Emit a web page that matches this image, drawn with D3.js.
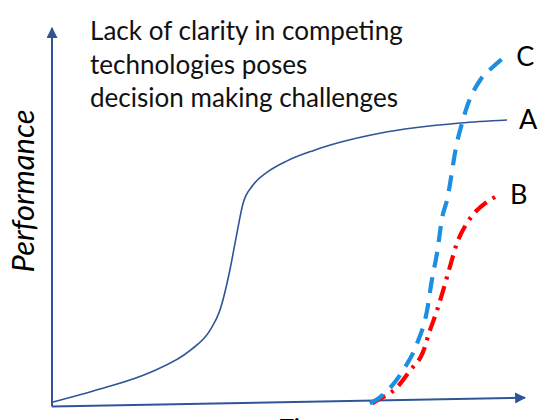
<!DOCTYPE html>
<html>
<head>
<meta charset="utf-8">
<script src="https://cdn.jsdelivr.net/npm/d3@7"></script>
<style>
  body { margin: 0; background: #fff; }
  svg { display: block; }
</style>
</head>
<body>
<div id="chart"></div>
<script>
// chart values (time 0-100, performance 0-100)
var titleLines = ["Lack of clarity in competing", "technologies poses", "decision making challenges"];
var xTitle = "Time";
var yTitle = "Performance";

var seriesNames = ["A", "B", "C"];

var timeA = [0, 10.1, 20.7, 29.2, 33.4, 35.5, 37.6, 38.9, 40.4, 42.5, 45.5, 49.7, 55.2, 60.9, 69.3, 86.3, 96.2];
var perfA = [1.1, 4.6, 9.0, 14.8, 20.1, 25.4, 36.0, 44.5, 53.7, 58.5, 61.9, 64.9, 67.6, 69.8, 72.2, 74.9, 75.7];

var timeB = [67.7, 68.7, 72.9, 75.7, 78.4, 79.9, 81.4, 82.7, 84.1, 85.6, 87.7, 89.9, 90.5, 94.3];
var perfB = [0.8, 1.6, 5.0, 9.5, 14.3, 20.1, 25.4, 30.7, 36.8, 43.1, 48.4, 51.9, 52.6, 55.8];

var timeC = [67.2, 69.3, 74.2, 77.2, 79.3, 80.3, 81.4, 82.5, 83.5, 85.6, 86.7, 87.7, 90.5, 93.2, 95.6];
var perfC = [0.8, 2.4, 9.5, 16.7, 25.4, 33.3, 40.5, 50.0, 54.5, 69.6, 74.9, 79.1, 86.2, 89.7, 92.3];

// hand-drawn axes: end points in data units (x axis rises slightly)
var xAxisEnds = [[0, 0], [100, 2.3]];
var yAxisEnds = [[0, 0], [0, 100]];

var width = 560, height = 420;

var svg = d3.select("#chart")
    .append("svg")
    .attr("width", width)
    .attr("height", height);

var x = d3.scaleLinear().domain([0, 100]).range([52, 525]);
var y = d3.scaleLinear().domain([0, 100]).range([406.5, 28]);

var axisColor = "#2f5597";
var fontFam = "Lato, 'Open Sans', 'DejaVu Sans', sans-serif";

// arrow head
svg.append("defs").append("marker")
    .attr("id", "arrow")
    .attr("viewBox", "0 0 10 10")
    .attr("refX", 9)
    .attr("refY", 5)
    .attr("markerWidth", 5.5)
    .attr("markerHeight", 5.5)
    .attr("markerUnits", "strokeWidth")
    .attr("orient", "auto")
    .append("path")
    .attr("d", "M0,0 L10,5 L0,10 Z")
    .attr("fill", axisColor);

var line = d3.line()
    .x(function (d) { return x(d[0]); })
    .y(function (d) { return y(d[1]); });

var curve = d3.line()
    .x(function (d) { return x(d[0]); })
    .y(function (d) { return y(d[1]); })
    .curve(d3.curveMonotoneX);

//////////
// AXES //
//////////
[xAxisEnds, yAxisEnds].forEach(function (ends) {
    svg.append("path")
        .attr("d", line(ends))
        .attr("fill", "none")
        .attr("stroke", axisColor)
        .attr("stroke-width", 2)
        .attr("marker-end", "url(#arrow)");
});

//////////
// CURVES //
//////////
var ptsA = d3.zip(timeA, perfA);
var ptsB = d3.zip(timeB, perfB);
var ptsC = d3.zip(timeC, perfC);

svg.append("path")
    .attr("d", curve(ptsA))
    .attr("fill", "none")
    .attr("stroke", "#2f5597")
    .attr("stroke-width", 1.6);

svg.append("path")
    .attr("d", curve(ptsB))
    .attr("fill", "none")
    .attr("stroke", "#ff0000")
    .attr("stroke-width", 4.2)
    .attr("stroke-dasharray", "15,7,3,7");

svg.append("path")
    .attr("d", curve(ptsC))
    .attr("fill", "none")
    .attr("stroke", "#1c8fe3")
    .attr("stroke-width", 4.2)
    .attr("stroke-dasharray", "16,10");

// series labels at the end of each curve
var ends = [ptsA[ptsA.length - 1], ptsB[ptsB.length - 1], ptsC[ptsC.length - 1]];
svg.selectAll("text.series")
    .data(seriesNames)
    .enter()
    .append("text")
    .attr("class", "series")
    .attr("x", function (d, i) { return x(ends[i][0]) + 12; })
    .attr("y", function (d, i) { return y(ends[i][1]) + 9; })
    .style("font-family", fontFam)
    .style("font-size", "27px")
    .attr("fill", "#000")
    .text(function (d) { return d; });

//////////
// TEXT //
//////////
var title = svg.append("text")
    .attr("x", 90)
    .attr("y", 40)
    .style("font-family", fontFam)
    .style("font-size", "25px")
    .attr("fill", "#111");

title.selectAll("tspan")
    .data(titleLines)
    .enter()
    .append("tspan")
    .attr("x", 90)
    .attr("dy", function (d, i) { return i === 0 ? 0 : 33.5; })
    .text(function (d) { return d; });

// fit first line to the reference width (~313px)
var w0 = title.select("tspan").node().getComputedTextLength();
title.style("font-size", (25 * 313 / w0) + "px");

var yLab = svg.append("text")
    .attr("transform", "translate(34,191) rotate(-90)")
    .attr("text-anchor", "middle")
    .style("font-family", fontFam)
    .style("font-size", "26px")
    .style("font-style", "italic")
    .attr("fill", "#000")
    .text(yTitle);
var wy = yLab.node().getComputedTextLength();
yLab.style("font-size", (26 * 163 / wy) + "px");

// axis title sits mostly below the frame, as in the original slide
svg.append("text")
    .attr("x", 305)
    .attr("y", 436.5)
    .attr("text-anchor", "middle")
    .style("font-family", fontFam)
    .style("font-size", "26px")
    .style("font-style", "italic")
    .attr("fill", "#000")
    .text(xTitle);
</script>
</body>
</html>
